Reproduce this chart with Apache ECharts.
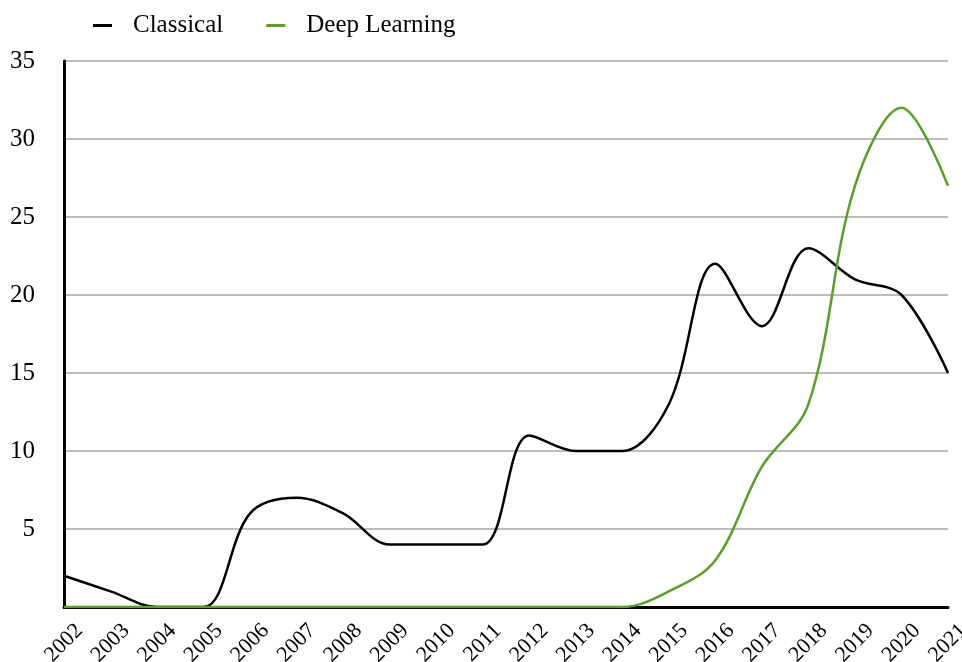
<!DOCTYPE html>
<html>
<head>
<meta charset="utf-8">
<script src="https://cdn.jsdelivr.net/npm/echarts@6/dist/echarts.min.js"></script>
<style>
html,body{margin:0;padding:0;background:#fff;}
#chart{width:962px;height:662px;}
</style>
</head>
<body>
<div id="chart"></div>
<script>
var years = ['2002','2003','2004','2005','2006','2007','2008','2009','2010','2011','2012','2013','2014','2015','2016','2017','2018','2019','2020','2021'];
var classical = [2,1,0,0,6,7,6,4,4,4,11,10,10,13,22,18,23,21,20,15];
var deepLearning = [0,0,0,0,0,0,0,0,0,0,0,0,0,1,3,9,13,27,32,27];
var yTicks = {min:0, max:35, interval:5};

var FONT = '"Liberation Serif", "Times New Roman", serif';
var chart = echarts.init(document.getElementById('chart'));
chart.setOption({
  animation:false,
  backgroundColor:'#fff',
  textStyle:{fontFamily:FONT},
  legend:{
    left:88, top:8,
    icon:'rect', itemWidth:19, itemHeight:3, itemGap:43,
    textStyle:{fontFamily:FONT, fontSize:25, color:'#000', padding:[0,0,0,16]},
    data:['Classical','Deep Learning']
  },
  grid:{left:64, right:14, top:61, bottom:55, containLabel:false, outerBoundsMode:'none'},
  xAxis:{
    type:'category', data:years, boundaryGap:false,
    axisLine:{lineStyle:{color:'#000', width:3}},
    axisTick:{show:false},
    axisLabel:{rotate:45, fontFamily:FONT, fontSize:22, color:'#000', margin:36, interval:0,
      align:'center', verticalAlign:'middle', hideOverlap:false},
    splitLine:{show:false}
  },
  yAxis:{
    type:'value', min:yTicks.min, max:yTicks.max, interval:yTicks.interval,
    axisLine:{show:true, lineStyle:{color:'#000', width:3}},
    axisTick:{show:false},
    axisLabel:{fontFamily:FONT, fontSize:25, color:'#000', margin:29, showMinLabel:false,
      formatter:function(v){return v===0?'':String(v);}},
    splitLine:{lineStyle:{color:'#a6a6a6', width:1.5}}
  },
  series:[
    {name:'Classical', type:'line', data:classical, smooth:0.35, symbol:'none',
     lineStyle:{color:'#000', width:2.5}, itemStyle:{color:'#000'}},
    {name:'Deep Learning', type:'line', data:deepLearning, smooth:0.35, symbol:'none',
     lineStyle:{color:'#5a9e2a', width:2.5}, itemStyle:{color:'#5a9e2a'}}
  ]
});
</script>
</body>
</html>
